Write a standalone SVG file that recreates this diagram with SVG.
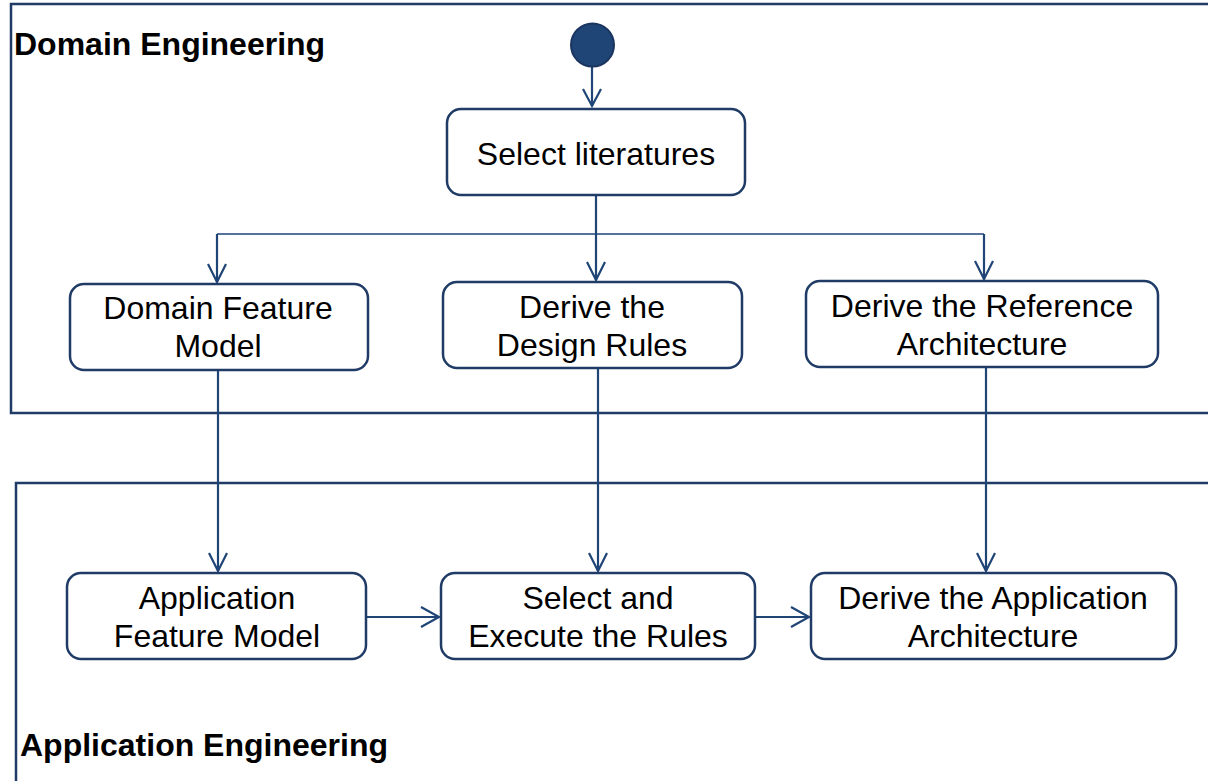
<svg xmlns="http://www.w3.org/2000/svg" width="1208" height="781" viewBox="0 0 1208 781">
  <style>
    .frame { fill: none; stroke: #1f3b66; stroke-width: 2.5; }
    .node rect { fill: #ffffff; stroke: #1f3b66; stroke-width: 2.5; }
    .label { font-family: "Liberation Sans", Arial, sans-serif; font-size: 32px; fill: #000000; text-anchor: middle; }
    .title { font-family: "Liberation Sans", Arial, sans-serif; font-size: 32px; font-weight: bold; fill: #000000; }
    .edge { fill: none; stroke: #1f4577; stroke-width: 2.2; }
    .edge.thin { stroke-width: 1.3; }
    .head { fill: none; stroke: #1f4577; stroke-width: 2.2; stroke-linejoin: miter; }
  </style>

  <rect width="1208" height="781" fill="#ffffff"/>

  <!-- swimlane frames -->
  <g id="domain-engineering">
    <rect class="frame" x="11" y="4" width="1220" height="409"/>
    <text class="title" x="14" y="55">Domain Engineering</text>
  </g>
  <g id="application-engineering">
    <rect class="frame" x="16" y="483" width="1220" height="320"/>
    <text class="title" x="20" y="756">Application Engineering</text>
  </g>

  <!-- connectors -->
  <g id="connectors">
    <!-- start to Select literatures -->
    <path class="edge" d="M592 67 V106"/>
    <path class="head" d="M583 89 L592 106 L601 89"/>
    <!-- fork below Select literatures -->
    <path class="edge" d="M596 195 V280"/>
    <path class="edge thin" d="M217 234 H984"/>
    <path class="edge" d="M217 234 V282"/>
    <path class="edge" d="M984 234 V279"/>
    <path class="head" d="M587 262 L596 280 L605 262"/>
    <path class="head" d="M208 264 L217 282 L226 264"/>
    <path class="head" d="M975 261 L984 279 L993 261"/>
    <!-- domain to application -->
    <path class="edge" d="M218 370 V571"/>
    <path class="head" d="M209 553 L218 571 L227 553"/>
    <path class="edge" d="M598 368 V571"/>
    <path class="head" d="M589 553 L598 571 L607 553"/>
    <path class="edge" d="M986 367 V571"/>
    <path class="head" d="M977 553 L986 571 L995 553"/>
    <!-- application chain -->
    <path class="edge" d="M366 617 H439"/>
    <path class="head" d="M421 607 L439 617 L421 627"/>
    <path class="edge" d="M755 617 H809"/>
    <path class="head" d="M791 607 L809 617 L791 627"/>
  </g>

  <!-- initial node -->
  <g id="start">
    <circle cx="592.5" cy="45" r="21.5" fill="#1f4577" stroke="#1a3560" stroke-width="2"/>
  </g>

  <!-- domain activities -->
  <g id="select-literatures" class="node">
    <rect x="447" y="109" width="298" height="86" rx="14"/>
    <text class="label" x="596" y="165">Select literatures</text>
  </g>
  <g id="domain-feature-model" class="node">
    <rect x="70" y="284" width="298" height="86" rx="14"/>
    <text class="label" x="218" y="319">Domain Feature</text>
    <text class="label" x="218" y="357">Model</text>
  </g>
  <g id="derive-design-rules" class="node">
    <rect x="443" y="282" width="299" height="86" rx="14"/>
    <text class="label" x="592" y="318">Derive the</text>
    <text class="label" x="592" y="356">Design Rules</text>
  </g>
  <g id="derive-reference-architecture" class="node">
    <rect x="806" y="281" width="352" height="86" rx="14"/>
    <text class="label" x="982" y="317">Derive the Reference</text>
    <text class="label" x="982" y="355">Architecture</text>
  </g>

  <!-- application activities -->
  <g id="application-feature-model" class="node">
    <rect x="67" y="573" width="299" height="86" rx="14"/>
    <text class="label" x="217" y="609">Application</text>
    <text class="label" x="217" y="647">Feature Model</text>
  </g>
  <g id="select-execute-rules" class="node">
    <rect x="441" y="573" width="314" height="86" rx="14"/>
    <text class="label" x="598" y="609">Select and</text>
    <text class="label" x="598" y="647">Execute the Rules</text>
  </g>
  <g id="derive-application-architecture" class="node">
    <rect x="811" y="573" width="365" height="86" rx="14"/>
    <text class="label" x="993" y="609">Derive the Application</text>
    <text class="label" x="993" y="647">Architecture</text>
  </g>
</svg>
